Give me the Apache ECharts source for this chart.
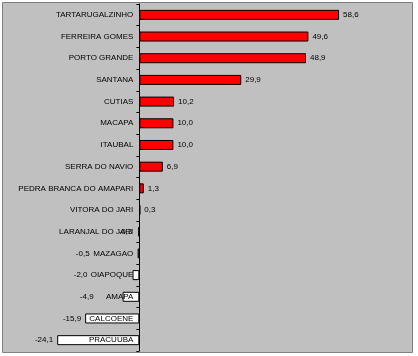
<!DOCTYPE html>
<html><head><meta charset="utf-8">
<script src="https://cdn.jsdelivr.net/npm/echarts@6/dist/echarts.min.js"></script>
<style>html,body{margin:0;padding:0;background:#fff}#c{width:418px;height:356px}</style>
</head><body><div id="c"></div>
<script>
const categories = ["TARTARUGALZINHO","FERREIRA GOMES","PORTO GRANDE","SANTANA","CUTIAS","MACAPA","ITAUBAL","SERRA DO NAVIO","PEDRA BRANCA DO AMAPARI","VITORA DO JARI","LARANJAL DO JARI","MAZAGAO","OIAPOQUE","AMAPA","CALCOENE","PRACUUBA"];
const values = [58.6,49.6,48.9,29.9,10.2,10.0,10.0,6.9,1.3,0.3,-0.3,-0.5,-2.0,-4.9,-15.9,-24.1];
const xMin = -40, xMax = 80;

const chart = echarts.init(document.getElementById('c'), null, {renderer:'canvas'});
const fmt = v => v.toFixed(1).replace('.', ',');
const gridLeft = 3, gridRight = 6;
const plotW = 418 - gridLeft - gridRight;
const zeroOffset = plotW * (0 - xMin) / (xMax - xMin);
// label distance nudges (styling, Excel-like placement of small negative labels)
const labelDistance = {"LARANJAL DO JARI":6, "MAZAGAO":48, "OIAPOQUE":45, "AMAPA":29};
chart.setOption({
  backgroundColor: '#ffffff',
  animation: false,
  graphic: [{type:'rect', shape:{x:2.5,y:2.5,width:410,height:350}, style:{fill:'#C0C0C0', stroke:'#808080', lineWidth:1}, z:-10}],
  grid: {left:gridLeft, right:gridRight, top:4, bottom:5, containLabel:false, outerBoundsMode:'none'},
  xAxis: {type:'value', min:xMin, max:xMax, show:false},
  yAxis: {
    type:'category', data:categories, inverse:true, offset:-zeroOffset,
    axisLine:{onZero:false, lineStyle:{color:'#000', width:1}},
    axisTick:{show:true, length:3, inside:false, lineStyle:{color:'#000'}},
    axisLabel:{fontFamily:'Arial, Liberation Sans', fontSize:8, color:'#000', margin:6, letterSpacing:-0.3},
    splitLine:{show:false}, z:5
  },
  series:[{
    type:'bar', barWidth:10, z:2,
    data: values.map((v, i) => ({
      value:v,
      itemStyle:{color: v>=0 ? '#FF0000' : '#FFFFFF', borderColor:'#000', borderWidth:1},
      label:{show:true, position: v>=0 ? 'right' : 'left', distance: labelDistance[categories[i]] || 4, formatter: p => fmt(p.value), fontFamily:'Arial, Liberation Sans', fontSize:8, color:'#000'}
    }))
  }]
});
</script></body></html>
